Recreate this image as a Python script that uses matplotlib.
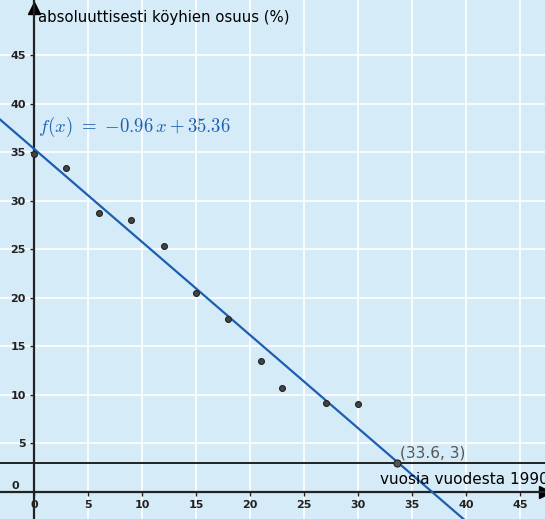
import numpy as np
import matplotlib.pyplot as plt

# data
years = [0, 3, 6, 9, 12, 15, 18, 21, 23, 27, 30]
share = [34.8, 33.4, 28.7, 28.0, 25.3, 20.5, 17.8, 13.5, 10.7, 9.2, 9.1]
slope, intercept = -0.96, 35.36
limit_level = 3
cross = (33.6, 3)
ticks = [0, 5, 10, 15, 20, 25, 30, 35, 40, 45]

plt.rcParams['mathtext.fontset'] = 'cm'
fig = plt.figure(figsize=(5.45, 5.19), dpi=100)
ax = fig.add_axes([0, 0, 1, 1])
ax.set_facecolor('#d5ebf7')
ax.set_xlim(-3.15, 47.3)
ax.set_ylim(-2.8, 50.7)

# grid
for t in ticks:
    ax.axvline(t, color='white', lw=1.2, zorder=0)
    ax.axhline(t, color='white', lw=1.2, zorder=0)

# axes through origin
for s in ['top', 'right']:
    ax.spines[s].set_visible(False)
ax.spines['left'].set_position(('data', 0))
ax.spines['bottom'].set_position(('data', 0))
ax.spines['left'].set_linewidth(1.6)
ax.spines['bottom'].set_linewidth(1.6)
ax.spines['left'].set_color('#222222')
ax.spines['bottom'].set_color('#222222')
ax.set_xticks(ticks)
ax.set_yticks(ticks[1:])
ax.tick_params(axis='both', direction='out', length=3, width=1, labelsize=8, pad=3, colors='#222222')
for lab in ax.get_xticklabels() + ax.get_yticklabels():
    lab.set_fontweight('bold')
ax.text(-1.4, 0.6, '0', fontsize=8, fontweight='bold', ha='right', va='center', color='#222222')
ax.plot(1, 0, '>', color='black', ms=9, transform=ax.get_yaxis_transform(), clip_on=False)
ax.plot(0, 0.985, '^', color='black', ms=9, transform=ax.get_xaxis_transform(), clip_on=False)

# regression line and level line
xx = np.array([-3.15, 47.3])
ax.plot(xx, slope * xx + intercept, color='#1c5fb0', lw=1.6, zorder=3)
ax.axhline(limit_level, color='#111111', lw=1.3, zorder=2)

ax.scatter(years, share, s=18, color='#444444', edgecolors='#222222', linewidths=0.8, zorder=4)
ax.scatter([cross[0]], [cross[1]], s=26, color='#555555', edgecolors='#222222', linewidths=0.8, zorder=5)

ax.text(0.35, 37.6, r'$f(x)\ =\ {-}0.96\,x + 35.36$', color='#1c5fb0', fontsize=13.5, va='center', ha='left')
ax.text(33.9, 4.0, '(%.1f, %d)' % cross, color='#555555', fontsize=11, va='center', ha='left')
ax.text(0.35, 48.9, 'absoluuttisesti köyhien osuus (%)', fontsize=10.7, va='center', ha='left')
# cut off at the right edge, as in the reference
ax.text(32.0, 0.5, 'vuosia vuodesta 1990', fontsize=11, va='bottom', ha='left')

fig.savefig('out.png', dpi=100)
